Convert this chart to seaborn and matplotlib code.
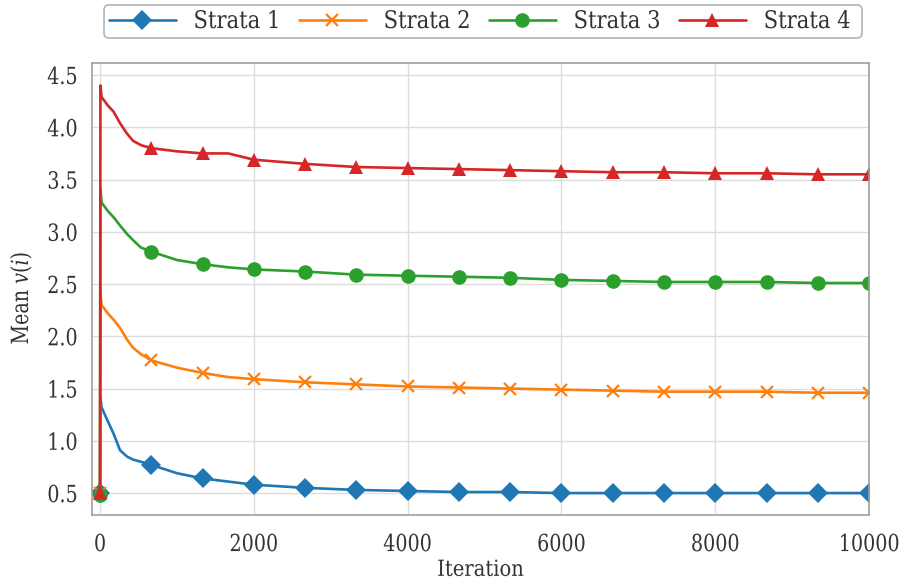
import numpy as np
import pandas as pd
import matplotlib
matplotlib.use("Agg")
import matplotlib.pyplot as plt
from matplotlib.patheffects import AbstractPathEffect
from matplotlib.transforms import Affine2D
import seaborn as sns

# Mean v(i) per stratum, sampled along the run
iterations = [0, 5, 20, 100, 175, 260, 350, 430, 530, 667, 1000, 1333, 1667, 2000,
              2667, 3333, 4000, 4667, 5333, 6000, 6667, 7333, 8000, 8667, 9333, 10000]
strata_1 = [0.50, 1.42, 1.32, 1.19, 1.07, 0.91, 0.85, 0.82, 0.80, 0.77, 0.69, 0.64, 0.61, 0.58,
            0.55, 0.53, 0.52, 0.51, 0.51, 0.50, 0.50, 0.50, 0.50, 0.50, 0.50, 0.50]
strata_2 = [0.50, 2.41, 2.30, 2.22, 2.16, 2.08, 1.97, 1.89, 1.83, 1.77, 1.70, 1.65, 1.61, 1.59,
            1.56, 1.54, 1.52, 1.51, 1.50, 1.49, 1.48, 1.47, 1.47, 1.47, 1.46, 1.46]
strata_3 = [0.48, 3.41, 3.28, 3.20, 3.14, 3.06, 2.98, 2.92, 2.85, 2.81, 2.73, 2.69, 2.66, 2.64,
            2.62, 2.59, 2.58, 2.57, 2.56, 2.54, 2.53, 2.52, 2.52, 2.52, 2.51, 2.51]
strata_4 = [0.50, 4.40, 4.29, 4.21, 4.15, 4.04, 3.94, 3.87, 3.83, 3.80, 3.77, 3.75, 3.75, 3.69,
            3.65, 3.62, 3.61, 3.60, 3.59, 3.58, 3.57, 3.57, 3.56, 3.56, 3.55, 3.55]
labels = ["Strata 1", "Strata 2", "Strata 3", "Strata 4"]
marker_iters = [0, 667, 1333, 2000, 2667, 3333, 4000, 4667, 5333, 6000,
                6667, 7333, 8000, 8667, 9333, 10000]
x_ticks = [0, 2000, 4000, 6000, 8000, 10000]
y_ticks = [0.5, 1.0, 1.5, 2.0, 2.5, 3.0, 3.5, 4.0, 4.5]


class Condensed(AbstractPathEffect):
    """Narrow the glyphs along the text direction (condensed serif look)."""

    def __init__(self, sx=0.84, anchor=0.5):
        super().__init__()
        self.sx = sx
        self.anchor = anchor

    def draw_path(self, renderer, gc, tpath, affine, rgbFace=None):
        ext = tpath.get_extents()
        x0 = ext.x0 + self.anchor * ext.width
        t = Affine2D().translate(-x0, 0).scale(self.sx, 1).translate(x0, 0) + affine
        renderer.draw_path(gc, tpath, t, rgbFace)


sns.set_theme(style="whitegrid")
plt.rcParams["font.family"] = ["DejaVu Serif"]
plt.rcParams["mathtext.fontset"] = "dejavuserif"

df = pd.DataFrame({"Iteration": iterations, "Strata 1": strata_1, "Strata 2": strata_2,
                   "Strata 3": strata_3, "Strata 4": strata_4})
long = df.melt(id_vars="Iteration", var_name="Stratum", value_name="v")

fig = plt.figure(figsize=(9.05, 5.83), dpi=100)
ax = fig.add_axes([0.1017, 0.1166, 0.8586, 0.7753])

palette = sns.color_palette("tab10", 4)
markers = ["D", "x", "o", "^"]
sizes = [10, 9, 10.5, 9.5]
mark_idx = [iterations.index(m) for m in marker_iters]

for lab, col, mk, ms in zip(labels, palette, markers, sizes):
    sub = long[long["Stratum"] == lab]
    sns.lineplot(data=sub, x="Iteration", y="v", ax=ax, color=col, marker=mk,
                 markersize=ms, markevery=mark_idx, linewidth=1.9, label=lab,
                 markeredgewidth=1.6 if mk == "x" else 0, markeredgecolor=col)

ax.set_xlim(-104, 10000)
ax.set_ylim(0.29, 4.615)
ax.set_xticks(x_ticks)
ax.set_xticklabels([str(v) for v in x_ticks])
ax.set_yticks(y_ticks)
ax.set_yticklabels([f"{v:.1f}" for v in y_ticks])
ax.tick_params(axis="both", labelsize=17, colors="#333333")
ax.tick_params(axis="x", pad=7)
ax.tick_params(axis="y", pad=4)
for lbl in ax.get_xticklabels():
    lbl.set_path_effects([Condensed(0.81, 0.5)])
for lbl in ax.get_yticklabels():
    lbl.set_path_effects([Condensed(0.81, 1.0)])

ax.set_xlabel("Iteration", fontsize=16, color="#333333", labelpad=2,
              path_effects=[Condensed(0.88, 0.5)])
ax.set_ylabel("Mean $v(i)$", fontsize=17, color="#333333",
              path_effects=[Condensed(0.81, 0.5)])
ax.yaxis.set_label_coords(-0.075, 0.48)
ax.grid(color="#dddddd", linewidth=1.0)
for s in ax.spines.values():
    s.set_edgecolor("#a0a0a0")
    s.set_linewidth(1.2)

leg = ax.legend(loc="upper center", bbox_to_anchor=(0.503, 1.128), borderaxespad=0,
                ncol=4, fontsize=17.5, frameon=True, edgecolor="#a0a0a0",
                handlelength=2.76, handletextpad=0.47, columnspacing=0.47,
                borderpad=0.2)
leg.get_frame().set_linewidth(1.2)
for t in leg.get_texts():
    t.set_path_effects([Condensed(0.87, 0.5)])
    t.set_color("#333333")

fig.savefig("out.png", dpi=100)
